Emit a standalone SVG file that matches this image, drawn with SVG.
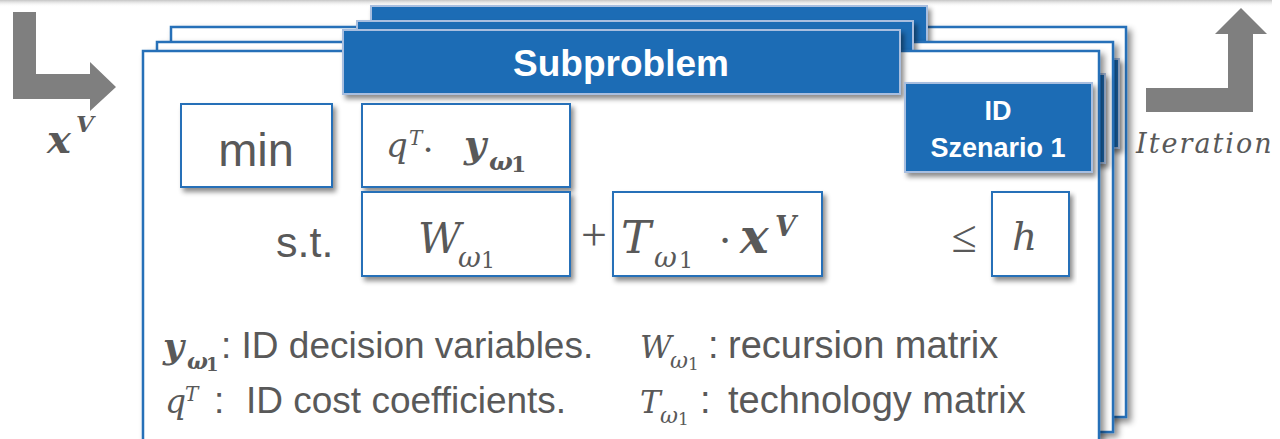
<svg xmlns="http://www.w3.org/2000/svg" width="1280" height="439" viewBox="0 0 1280 439">
<defs>
  <linearGradient id="topband" x1="0" y1="0" x2="0" y2="1">
    <stop offset="0" stop-color="#c4c4c4"/>
    <stop offset="1" stop-color="#ffffff" stop-opacity="0"/>
  </linearGradient>
  <filter id="sh" x="-5%" y="-5%" width="115%" height="130%">
    <feDropShadow dx="3" dy="4" stdDeviation="2.5" flood-color="#000" flood-opacity="0.45"/>
  </filter>
  <filter id="shs" x="-5%" y="-5%" width="112%" height="115%">
    <feDropShadow dx="4" dy="4" stdDeviation="3" flood-color="#000" flood-opacity="0.45"/>
  </filter>
  <style>
    .sheet{fill:#ffffff;stroke:#2570b8;stroke-width:2.5}
    .box{fill:#ffffff;stroke:#2570b8;stroke-width:2}
    .head{fill:#1b6cb5;stroke:#a8bedf;stroke-width:2}
    .arrow{fill:#7f7f7f}
    .sans{font-family:"Liberation Sans",Arial,sans-serif;fill:#595959}
    .wt{font-family:"Liberation Sans",Arial,sans-serif;fill:#ffffff;font-weight:bold;text-anchor:middle}
    .m{font-family:"DejaVu Serif",serif;font-style:italic;fill:#595959}
    .mb{font-family:"DejaVu Serif",serif;font-style:italic;font-weight:bold;fill:#595959}
    .mu{font-family:"DejaVu Serif",serif;fill:#595959}
    .mub{font-family:"DejaVu Serif",serif;font-weight:bold;fill:#595959}
    .op{font-family:"Liberation Serif","Times New Roman",serif;fill:#595959;text-anchor:middle}
  </style>
</defs>

<rect x="0" y="0" width="1272" height="7" fill="url(#topband)"/>

<g id="connectors">
  <polygon class="arrow" points="13,12 36,12 36,74 90,74 90,62 116,87 90,111 90,99 13,99"/>
  <polygon class="arrow" points="1146,88 1228,88 1228,34 1215,34 1241,8 1267,34 1253,34 1253,112 1146,112"/>
</g>

<g id="label-xV">
  <text class="mb" x="47" y="153" font-size="40">x</text>
  <text class="mb" x="76" y="132" font-size="23">V</text>
</g>
<g id="label-iteration">
  <text class="m" x="1136" y="153" font-size="27" letter-spacing="2">Iteration</text>
</g>

<g id="sheet-back">
  <rect class="sheet" x="171" y="27" width="955" height="390" filter="url(#shs)"/>
  <rect class="head" x="371" y="6" width="556" height="64" filter="url(#sh)"/>
  <rect class="head" x="932" y="59" width="187" height="89" filter="url(#sh)"/>
</g>

<g id="sheet-middle">
  <rect class="sheet" x="157" y="42" width="956" height="390" filter="url(#shs)"/>
  <rect class="head" x="357" y="21" width="556" height="64" filter="url(#sh)"/>
  <rect class="head" x="918" y="74" width="187" height="89" filter="url(#sh)"/>
</g>

<g id="sheet-front">
  <rect class="sheet" x="143" y="51" width="956" height="420" filter="url(#shs)"/>
</g>

<g id="header-subproblem">
  <rect class="head" x="343" y="30" width="557" height="64" filter="url(#sh)"/>
  <text class="wt" x="621" y="76" font-size="37">Subproblem</text>
</g>

<g id="id-szenario">
  <rect class="head" x="905" y="83" width="187" height="89" filter="url(#sh)"/>
  <text class="wt" x="998" y="120" font-size="27">ID</text>
  <text class="wt" x="998" y="157" font-size="27">Szenario 1</text>
</g>

<g id="box-min">
  <rect class="box" x="181" y="104" width="151" height="83" filter="url(#sh)"/>
  <text class="sans" x="256" y="166" font-size="47" text-anchor="middle">min</text>
</g>

<g id="box-objective">
  <rect class="box" x="362" y="104" width="208" height="83" filter="url(#sh)"/>
  <text class="m" x="386" y="157" font-size="34">q</text>
  <text class="m" x="409" y="145" font-size="20">T</text>
  <text class="op" x="428" y="162" font-size="38">·</text>
  <text class="mb" x="464" y="157" font-size="38">y</text>
  <text class="mb" x="489" y="170" font-size="25">ω</text>
  <text class="mub" x="511" y="172" font-size="22">1</text>
</g>

<g id="label-st">
  <text class="sans" x="276" y="257" font-size="43">s.t.</text>
</g>

<g id="box-W">
  <rect class="box" x="362" y="192" width="208" height="84" filter="url(#sh)"/>
  <text class="m" x="418" y="253" font-size="42">W</text>
  <text class="m" x="458" y="267" font-size="28">ω</text>
  <text class="mu" x="481" y="268" font-size="22">1</text>
</g>

<g id="label-plus">
  <text class="op" x="594" y="250" font-size="46">+</text>
</g>

<g id="box-T">
  <rect class="box" x="613" y="192" width="209" height="84" filter="url(#sh)"/>
  <text class="m" x="621" y="253" font-size="45">T</text>
  <text class="m" x="654" y="267" font-size="28">ω</text>
  <text class="mu" x="679" y="268" font-size="22">1</text>
  <text class="op" x="725" y="255" font-size="44">·</text>
  <text class="mb" x="740" y="253" font-size="48">x</text>
  <text class="mb" x="775" y="236" font-size="27">V</text>
</g>

<g id="label-leq">
  <text class="op" x="964" y="252" font-size="46">≤</text>
</g>

<g id="box-h">
  <rect class="box" x="992" y="192" width="77" height="84" filter="url(#sh)"/>
  <text class="m" x="1012" y="250" font-size="39">h</text>
</g>

<g id="legend">
  <text class="mb" x="163" y="358" font-size="36">y</text>
  <text class="mb" x="187" y="369" font-size="22">ω</text>
  <text class="mub" x="206" y="371" font-size="18">1</text>
  <text class="sans" x="221" y="358" font-size="37">: ID decision variables.</text>

  <text class="m" x="165" y="413" font-size="33">q</text>
  <text class="m" x="185" y="401" font-size="20">T</text>
  <text class="sans" x="214" y="413" font-size="37">:</text>
  <text class="sans" x="246" y="413" font-size="37">ID cost coefficients.</text>

  <text class="m" x="640" y="358" font-size="31">W</text>
  <text class="m" x="670" y="368" font-size="22">ω</text>
  <text class="mu" x="688" y="370" font-size="17">1</text>
  <text class="sans" x="708" y="358" font-size="38">:</text>
  <text class="sans" x="728" y="358" font-size="38">recursion matrix</text>

  <text class="m" x="640" y="413" font-size="31">T</text>
  <text class="m" x="660" y="423" font-size="22">ω</text>
  <text class="mu" x="678" y="425" font-size="17">1</text>
  <text class="sans" x="700" y="413" font-size="38">:</text>
  <text class="sans" x="728" y="413" font-size="38">technology matrix</text>
</g>
</svg>
